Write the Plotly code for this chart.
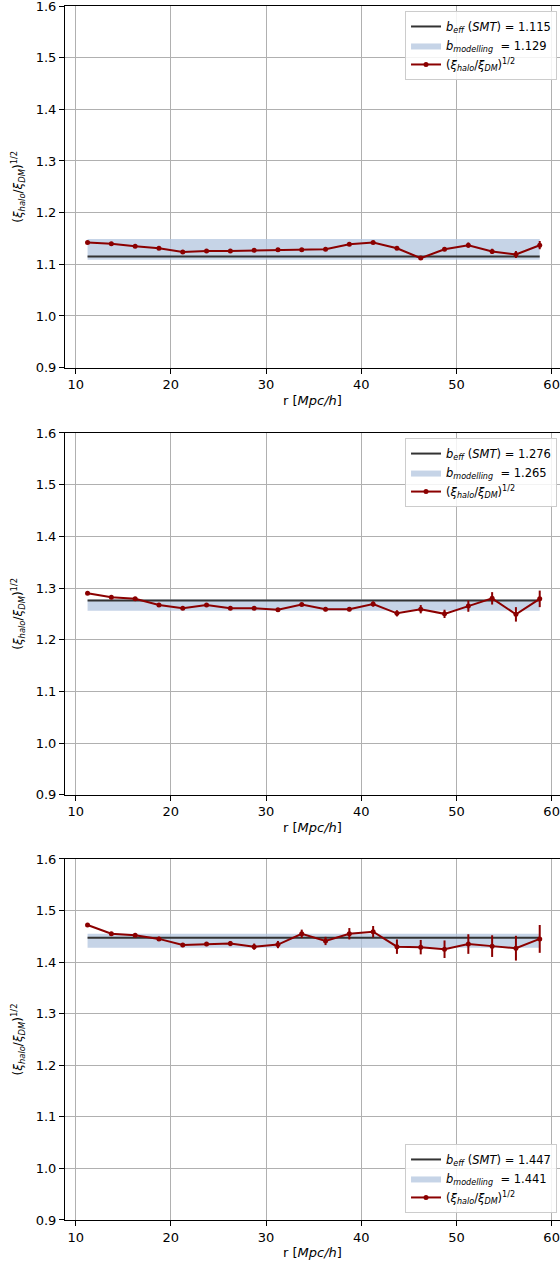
import plotly.graph_objects as go

# Separation bins [Mpc/h]
r = [11.25, 13.75, 16.25, 18.75, 21.25, 23.75, 26.25, 28.75, 31.25, 33.75,
     36.25, 38.75, 41.25, 43.75, 46.25, 48.75, 51.25, 53.75, 56.25, 58.75]

# (xi_halo / xi_DM)^(1/2) per mass bin, with 1-sigma errors
ratio_1 = [1.142, 1.140, 1.135, 1.131, 1.124, 1.126, 1.126, 1.127, 1.128, 1.128,
           1.129, 1.139, 1.142, 1.131, 1.112, 1.129, 1.137, 1.125, 1.119, 1.137]
err_1 = [0.002, 0.002, 0.002, 0.002, 0.002, 0.002, 0.002, 0.002, 0.002, 0.002,
         0.002, 0.003, 0.003, 0.003, 0.003, 0.003, 0.005, 0.005, 0.007, 0.008]

ratio_2 = [1.290, 1.282, 1.279, 1.267, 1.261, 1.267, 1.261, 1.261, 1.258, 1.268,
           1.259, 1.259, 1.269, 1.251, 1.259, 1.250, 1.265, 1.280, 1.249, 1.279]
err_2 = [0.002, 0.002, 0.002, 0.002, 0.002, 0.003, 0.003, 0.003, 0.003, 0.003,
         0.004, 0.004, 0.005, 0.006, 0.008, 0.008, 0.011, 0.012, 0.014, 0.016]

ratio_3 = [1.472, 1.455, 1.452, 1.445, 1.433, 1.435, 1.436, 1.430, 1.434, 1.455,
           1.441, 1.455, 1.459, 1.430, 1.429, 1.425, 1.435, 1.431, 1.427, 1.445]
err_3 = [0.002, 0.002, 0.003, 0.004, 0.004, 0.004, 0.005, 0.006, 0.007, 0.008,
         0.008, 0.011, 0.011, 0.014, 0.014, 0.017, 0.019, 0.021, 0.024, 0.027]

# Effective bias from SMT and the modelled bias with its band
b_eff = [1.115, 1.276, 1.447]
b_mod = [1.129, 1.265, 1.441]
b_mod_lo = [1.109, 1.256, 1.428]
b_mod_hi = [1.149, 1.278, 1.455]

ratios = [ratio_1, ratio_2, ratio_3]
errors = [err_1, err_2, err_3]

y_ticks = [0.9, 1.0, 1.1, 1.2, 1.3, 1.4, 1.5, 1.6]
x_ticks = [10, 20, 30, 40, 50, 60]

FONT = "DejaVu Sans"
domains = [[0.7021, 1.0], [0.3503, 0.6483], [0.0, 0.2974]]
legend_pos = [dict(y=0.9959, yanchor="top"),
              dict(y=0.6441, yanchor="top"),
              dict(y=0.0058, yanchor="bottom")]

ytitle = ("(<i>ξ</i><sub><i>halo</i></sub>/<i>ξ</i><sub><i>DM</i></sub>)"
          "<sup>1/2</sup>")

fig = go.Figure()
layout = dict(
    width=560, height=1264,
    margin=dict(l=65, r=0, t=6, b=44),
    paper_bgcolor="white", plot_bgcolor="white",
    font=dict(family=FONT, size=13, color="black"),
    showlegend=True,
)

for i in range(3):
    k = "" if i == 0 else str(i + 1)
    xa, ya = "x" + k, "y" + k
    lg = "legend" + k
    x0, x1 = r[0], r[-1]

    fig.add_trace(go.Scatter(
        x=[x0, x1, x1, x0], y=[b_mod_lo[i], b_mod_lo[i], b_mod_hi[i], b_mod_hi[i]],
        fill="toself", fillcolor="rgba(176,196,222,0.72)", mode="lines",
        line=dict(width=0), xaxis=xa, yaxis=ya, legend=lg, legendrank=2,
        name=f"<i>b</i><sub><i>modelling</i></sub>  = {b_mod[i]:.3f}",
        hoverinfo="skip"))
    fig.add_trace(go.Scatter(
        x=[x0, x1], y=[b_eff[i], b_eff[i]], mode="lines",
        line=dict(color="#333333", width=2), xaxis=xa, yaxis=ya,
        legend=lg, legendrank=1,
        name=f"<i>b</i><sub><i>eff</i></sub> (<i>SMT</i>) = {b_eff[i]:.3f}"))
    fig.add_trace(go.Scatter(
        x=r, y=ratios[i], mode="lines+markers",
        line=dict(color="#8b0000", width=2),
        marker=dict(color="#8b0000", size=5),
        error_y=dict(type="data", array=errors[i], visible=True,
                     color="#8b0000", thickness=2, width=0),
        xaxis=xa, yaxis=ya, legend=lg, legendrank=3, name=ytitle))

    axis_common = dict(
        showgrid=True, gridcolor="#b0b0b0", gridwidth=0.8,
        showline=True, linecolor="black", linewidth=1,
        ticks="outside", ticklen=5, tickwidth=1, tickcolor="black",
        tickfont=dict(family=FONT, size=13, color="black"),
        ticklabeloverflow="allow",
        zeroline=False,
    )
    layout["xaxis" + k] = dict(
        axis_common, range=[8.88, 60.88], tickvals=x_ticks, mirror=True,
        anchor=ya, domain=[0, 1],
        title=dict(text="r [<i>Mpc/h</i>]", standoff=4,
                   font=dict(family=FONT, size=13, color="black")))
    layout["yaxis" + k] = dict(
        axis_common, range=[0.9, 1.6], tickvals=y_ticks, tickformat=".1f",
        anchor=xa, domain=domains[i],
        title=dict(text=ytitle, standoff=10,
                   font=dict(family=FONT, size=12, color="black")))
    layout[lg] = dict(
        x=0.994, xanchor="right", **legend_pos[i],
        bgcolor="rgba(255,255,255,0.85)", bordercolor="#cccccc", borderwidth=1,
        font=dict(family=FONT, size=11.5, color="black"),
        itemwidth=30, tracegroupgap=0, traceorder="normal")

fig.update_layout(**layout)
fig.write_html("out.html")
